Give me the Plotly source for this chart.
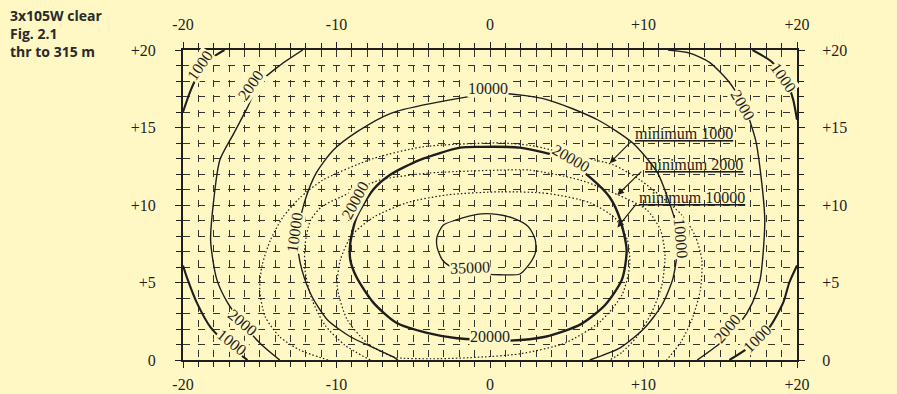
import plotly.graph_objects as go

# ---------------- data ----------------
x_tick_vals = [-20, -10, 0, 10, 20]
x_tick_text = ['-20', '-10', '0', '+10', '+20']
y_tick_vals = [0, 5, 10, 15, 20]
y_tick_text = ['0', '+5', '+10', '+15', '+20']
x_minor_vals = list(range(-20, 21))
y_minor_vals = list(range(0, 21))

# 1000 contour (four corner arcs)
c1000_tl_x = [-20.0, -19.5, -18.9, -18.1, -17.3]
c1000_tl_y = [16.0, 17.4, 18.6, 19.5, 20.0]
c1000_tr_x = [17.1, 18.4, 19.35, 19.75, 20.0]
c1000_tr_y = [20.0, 19.2, 17.9, 16.8, 15.5]
c1000_bl_x = [-20.0, -19.7, -19.1, -18.2, -17.1, -15.8]
c1000_bl_y = [6.1, 5.2, 3.7, 2.1, 1.0, 0.0]
c1000_br_x = [15.6, 16.9, 18.2, 19.1, 19.5, 20.0]
c1000_br_y = [0.0, 0.85, 2.1, 3.7, 5.0, 6.1]

# 2000 contour (left and right arcs)
c2000_l_x = [-12.2, -13.7, -15.0, -15.8, -16.7, -17.6, -18.0, -18.2, -17.8, -17.1, -16.3, -15.0, -13.7]
c2000_l_y = [20.0, 19.0, 17.9, 16.3, 14.6, 12.9, 10.3, 7.7, 5.2, 3.7, 2.6, 1.1, 0.0]
c2000_r_x = [11.6, 13.0, 14.3, 15.6, 16.6, 17.3, 17.6, 17.9, 17.6, 17.1, 16.3, 15.0, 13.5]
c2000_r_y = [20.0, 19.8, 19.2, 17.9, 16.3, 14.2, 12.3, 9.0, 5.2, 3.7, 2.4, 1.1, 0.0]

# 10000 contour
c10000_x = [6.5, 8.5, 10.1, 11.2, 11.9, 12.2, 12.05, 11.7, 10.9, 9.3, 7.0, 3.7, 0.65,
            -3.3, -6.5, -8.7, -10.2, -11.3, -12.05, -12.5, -12.5, -12.25, -11.6, -10.6,
            -9.1, -7.6, -6.3, -6.0]
c10000_y = [0.0, 0.8, 2.1, 3.55, 5.2, 7.1, 9.0, 10.1, 12.1, 14.0, 15.5, 16.8, 17.2,
            16.65, 15.9, 14.7, 13.55, 12.1, 10.3, 8.4, 7.1, 5.8, 4.1, 2.6,
            1.5, 0.8, 0.2, 0.0]

# 20000 contour (closed)
c20000_x = [-0.46, 1.3, 3.6, 5.9, 7.5, 8.6, 8.9, 8.5, 7.8, 6.5, 4.8, 1.95, -0.65,
            -1.95, -4.6, -6.5, -7.6, -8.7, -9.1, -9.1, -8.7, -7.6, -6.1, -4.1, -2.15, -0.46]
c20000_y = [1.3, 1.25, 1.5, 2.3, 3.55, 5.2, 7.1, 9.0, 10.5, 11.8, 13.0, 13.7, 13.75,
            13.7, 12.9, 11.95, 11.0, 9.2, 7.55, 6.45, 5.35, 3.7, 2.4, 1.75, 1.4, 1.3]

# 35000 contour (closed)
c35000_x = [-3.45, -3.05, -2.15, -0.85, 0.45, 1.5, 2.5, 2.95, 2.95, 2.5, 1.95, 0.65,
            -0.85, -2.4, -3.1, -3.45, -3.45]
c35000_y = [7.95, 8.7, 9.05, 9.4, 9.4, 9.15, 8.6, 7.75, 6.9, 6.1, 5.55, 5.5,
            5.6, 5.95, 6.45, 7.3, 7.95]

# minimum 1000 (dotted)
min1000_x = [-10.55, -12.4, -13.7, -14.65, -15.0, -14.85, -14.3, -13.5, -12.4, -10.9,
             -7.6, -4.4, -1.5, 0.65, 2.6, 5.9, 8.0, 9.8, 11.2, 12.5, 13.35, 13.8,
             13.7, 13.15, 12.4, 11.5]
min1000_y = [0.0, 0.65, 1.5, 2.8, 4.5, 6.1, 7.75, 9.2, 10.45, 11.6,
             13.0, 13.75, 13.95, 14.0, 13.85, 13.1, 12.6, 11.6, 10.5, 9.35, 8.05, 6.45,
             4.5, 2.6, 1.1, 0.0]

# minimum 2000 (dotted)
min2000_x = [-7.8, -9.45, -10.75, -11.6, -12.05, -12.05, -11.7, -10.95, -9.75, -7.2,
             -4.1, 0.65, 2.6, 5.9, 8.35, 10.2, 11.1, 11.4, 11.2, 10.55, 9.65, 8.6, 7.8]
min2000_y = [0.0, 0.95, 2.25, 3.9, 5.8, 7.4, 9.0, 9.9, 10.5, 11.6,
             12.05, 12.25, 12.25, 11.6, 10.65, 9.7, 8.4, 6.8, 4.85, 3.1, 1.6, 0.5, 0.0]

# minimum 10000 (dotted, closed)
min10000_x = [0.65, 3.7, 6.5, 8.15, 8.95, 9.1, 8.6, 7.15, 4.9, 1.95, -1.3, -3.9,
              -6.3, -8.0, -9.3, -9.95, -9.75, -9.0, -7.6, -5.4, -2.8, 0.65]
min10000_y = [10.85, 10.75, 10.15, 9.15, 7.75, 6.1, 4.2, 2.45, 1.1, 0.4, 0.15, 0.08,
              0.2, 1.1, 2.6, 4.7, 6.45, 8.05, 9.2, 10.15, 10.65, 10.85]

# arrows: (tip x, tip y, tail x, tail y)
arrow_tip_x = [7.8, 8.3, 8.3]
arrow_tip_y = [12.7, 10.65, 8.55]
arrow_tail_x = [9.3, 9.95, 9.6]
arrow_tail_y = [14.2, 12.25, 10.15]
min_texts = ['minimum 1000', 'minimum 2000', 'minimum 10000']
min_text_y = [14.6, 12.6, 10.5]

# contour labels: text, x, y, angle
contour_label_text = ['1000', '2000', '1000', '2000', '2000', '1000', '2000', '1000',
                      '10000', '10000', '10000', '20000', '20000', '20000', '35000']
contour_label_x = [-18.9, -15.6, 19.1, 16.5, -16.1, -16.8, 15.45, 17.4,
                   -0.1, -12.75, 12.45, -8.8, 5.3, 0.0, -1.3]
contour_label_y = [19.0, 17.7, 18.2, 16.45, 2.45, 1.15, 2.05, 1.4,
                   17.5, 8.25, 7.85, 10.3, 13.0, 1.5, 5.95]
contour_label_angle = [-55, -55, 55, 60, 40, 38, -50, -45,
                       0, -82, 85, -62, 30, 0, -2]

title_lines = ['3x105W clear', 'Fig. 2.1', 'thr to 315 m']

# ---------------- styling ----------------
BG = '#fff7c4'
INK = '#1e1e1e'
GRID = '#35352e'
GRID_DASH = '7px,8px'
SERIF = 'Liberation Serif'

fig = go.Figure()


def add_line(xs, ys, width, dash='solid'):
    fig.add_trace(go.Scatter(
        x=xs, y=ys, mode='lines',
        line=dict(color=INK, width=width, dash=dash, shape='spline', smoothing=0.7),
        hoverinfo='skip', showlegend=False))


DOT = '1.5px,2.2px'
add_line(min1000_x, min1000_y, 1.2, DOT)
add_line(min2000_x, min2000_y, 1.2, DOT)
add_line(min10000_x, min10000_y, 1.2, DOT)

for xs, ys in [(c1000_tl_x, c1000_tl_y), (c1000_tr_x, c1000_tr_y),
               (c1000_bl_x, c1000_bl_y), (c1000_br_x, c1000_br_y)]:
    add_line(xs, ys, 2.1)
add_line(c2000_l_x, c2000_l_y, 1.4)
add_line(c2000_r_x, c2000_r_y, 1.4)
add_line(c10000_x, c10000_y, 1.4)
add_line(c20000_x, c20000_y, 2.4)
add_line(c35000_x, c35000_y, 1.3)

# dummy trace for the mirrored (top / right) axes
fig.add_trace(go.Scatter(x=[None], y=[None], xaxis='x2', yaxis='y2',
                         showlegend=False, hoverinfo='skip'))

annotations = []
for t, x, y, a in zip(contour_label_text, contour_label_x, contour_label_y, contour_label_angle):
    annotations.append(dict(x=x, y=y, xref='x', yref='y', text=t, showarrow=False,
                            textangle=a, bgcolor=BG, borderpad=0,
                            font=dict(family=SERIF, size=16, color=INK)))

for tx, ty, ax, ay, txt, yy in zip(arrow_tip_x, arrow_tip_y, arrow_tail_x, arrow_tail_y,
                                   min_texts, min_text_y):
    annotations.append(dict(x=tx, y=ty, ax=ax, ay=ay, xref='x', yref='y',
                            axref='x', ayref='y', text='', showarrow=True,
                            arrowhead=2, arrowsize=1.1, arrowwidth=1.2, arrowcolor=INK))
    annotations.append(dict(x=ax, y=yy, xref='x', yref='y', text='<u>' + txt + '</u>',
                            showarrow=False, xanchor='left', yanchor='middle',
                            font=dict(family=SERIF, size=16, color=INK)))

annotations.append(dict(x=-0.285, y=1.15, xref='paper', yref='paper', xanchor='left',
                        yanchor='top', align='left', showarrow=False,
                        text='<br>'.join('<b>' + s + '</b>' for s in title_lines),
                        font=dict(family='Open Sans', size=14, color='#2a2a2a')))

tickfont = dict(family=SERIF, size=16, color=INK)


def axis_common(vals, texts, minor_vals, grid):
    return dict(
        tickmode='array', tickvals=vals, ticktext=texts, ticks='outside', ticklen=6,
        tickwidth=1, tickcolor=INK, showline=True, linecolor=INK, linewidth=2,
        zeroline=False, showgrid=grid, gridcolor=GRID, griddash=GRID_DASH, gridwidth=1,
        tickfont=tickfont, fixedrange=True, automargin=False,
        minor=dict(tickmode='array', tickvals=minor_vals, ticks='outside', ticklen=5,
                   tickwidth=1, tickcolor=INK, showgrid=grid, gridcolor=GRID,
                   griddash=GRID_DASH, gridwidth=1),
    )


xa = axis_common(x_tick_vals, x_tick_text, x_minor_vals, True)
xa.update(range=[-20, 20], ticklabelstandoff=3)
xa2 = axis_common(x_tick_vals, x_tick_text, x_minor_vals, False)
xa2.update(range=[-20, 20], overlaying='x', side='top', ticklabelstandoff=6)
ya = axis_common(y_tick_vals, y_tick_text, y_minor_vals, True)
ya.update(range=[0, 20], ticklabelstandoff=16)
ya2 = axis_common(y_tick_vals, y_tick_text, y_minor_vals, False)
ya2.update(range=[0, 20], overlaying='y', side='right', ticklabelstandoff=14)

fig.update_layout(
    width=897, height=394,
    margin=dict(l=183, r=100, t=50, b=34, autoexpand=False),
    paper_bgcolor=BG, plot_bgcolor=BG,
    xaxis=xa, xaxis2=xa2, yaxis=ya, yaxis2=ya2,
    annotations=annotations, showlegend=False,
)

fig.write_html('out.html', config={'displayModeBar': False},
               post_script="document.body.style.margin='0';"
                           "document.body.style.background='" + BG + "';")
